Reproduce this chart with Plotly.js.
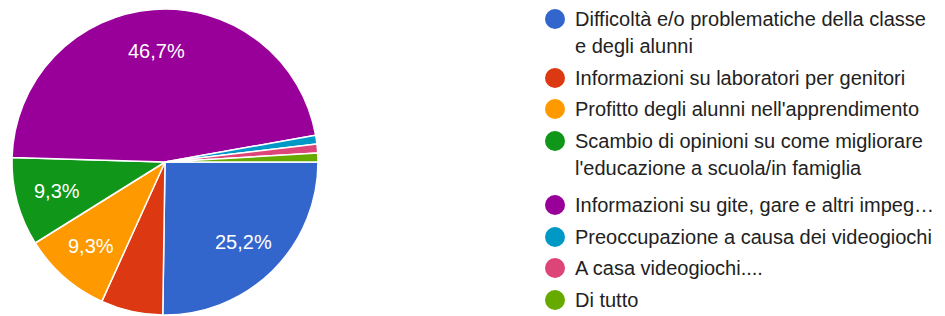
<!DOCTYPE html>
<html>
<head>
<meta charset="utf-8">
<script src="https://cdn.plot.ly/plotly-3.0.1.min.js"></script>
<style>html,body{margin:0;padding:0;background:#fff;}#chart{width:945px;height:316px;}</style>
</head>
<body>
<div id="chart"></div>
<script>
// Categories (legend labels; "\n" marks where the legend wraps)
const categories = [
  "Difficoltà e/o problematiche della classe\ne degli alunni",
  "Informazioni su laboratori per genitori",
  "Profitto degli alunni nell'apprendimento",
  "Scambio di opinioni su come migliorare\nl'educazione a scuola/in famiglia",
  "Informazioni su gite, gare e altri impeg…",
  "Preoccupazione a causa dei videogiochi",
  "A casa videogiochi....",
  "Di tutto"
];
// Response counts (107 total)
const counts = [27, 7, 10, 10, 50, 1, 1, 1];
// Percent labels shown on slices (false where the chart shows none)
const showLabel = [true, false, true, true, true, false, false, false];
const colors = ["#3366cc", "#dc3912", "#ff9900", "#109618", "#990099", "#0099c6", "#dd4477", "#66aa00"];

const W = 945, H = 316;
const FONT = "Arial, 'Liberation Sans', sans-serif";
const CX = 165, CY = 162, R = 153;   // pie centre / radius in px
const START = 90;                    // first slice starts at 3 o'clock

const trace = {
  type: "pie",
  labels: categories.map(c => c.replace("\n", " ")),
  values: counts,
  sort: false,
  direction: "clockwise",
  rotation: START,
  marker: {colors: colors, line: {color: "#ffffff", width: 1.5}},
  textinfo: "none",
  hoverinfo: "label+percent",
  showlegend: false,
  domain: {x: [(CX - R) / W, (CX + R) / W], y: [1 - (CY + R) / H, 1 - (CY - R) / H]}
};

const shapes = [], annotations = [];

// Percent labels placed along each slice's mid-angle
const total = counts.reduce((a, b) => a + b, 0);
let acc = 0;
counts.forEach((v, i) => {
  const mid = START + (acc + v / 2) / total * 360;
  acc += v;
  if (!showLabel[i]) return;
  const a = mid * Math.PI / 180, rr = R * 0.73;
  const pct = (v / total * 100).toFixed(1).replace(".", ",") + "%";
  annotations.push({
    xref: "paper", yref: "paper",
    x: (CX + rr * Math.sin(a)) / W, y: 1 - (CY - rr * Math.cos(a)) / H,
    xanchor: "center", yanchor: "middle", showarrow: false,
    text: pct, font: {family: FONT, size: 20, color: "#ffffff"}
  });
});

// Custom legend: circles + text lines
const rowY = [19, 78, 109, 141, 205, 237, 268, 300];
const lineGap = 27;
categories.forEach((c, i) => {
  const cy = rowY[i];
  shapes.push({
    type: "circle", xref: "paper", yref: "paper",
    x0: (555 - 10) / W, x1: (555 + 10) / W,
    y0: 1 - (cy + 10) / H, y1: 1 - (cy - 10) / H,
    fillcolor: colors[i], line: {width: 0}
  });
  c.split("\n").forEach((line, k) => {
    annotations.push({
      xref: "paper", yref: "paper", x: 573 / W, y: 1 - (cy + k * lineGap) / H,
      xanchor: "left", yanchor: "middle", showarrow: false,
      text: line, font: {family: FONT, size: 20, color: "#222222"}
    });
  });
});

const layout = {
  width: W, height: H,
  margin: {l: 0, r: 0, t: 0, b: 0},
  paper_bgcolor: "#ffffff",
  separators: ",.",
  showlegend: false,
  shapes: shapes,
  annotations: annotations
};

Plotly.newPlot("chart", [trace], layout, {displayModeBar: false, staticPlot: true});
</script>
</body>
</html>
